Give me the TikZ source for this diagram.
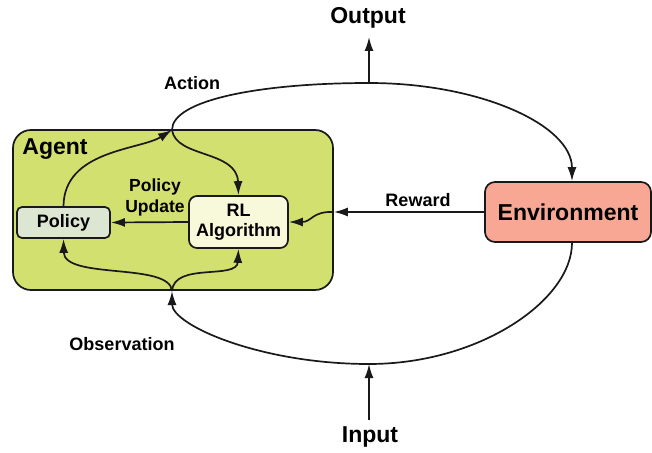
\documentclass[tikz,border=0pt]{standalone}
\usepackage{fontspec}
\setmainfont{Liberation Sans}
\usetikzlibrary{arrows.meta}
\definecolor{agentGreen}{RGB}{210,224,112}
\definecolor{policyGray}{RGB}{220,230,210}
\definecolor{algoYellow}{RGB}{248,248,218}
\definecolor{envSalmon}{RGB}{247,167,147}
\definecolor{lineDark}{RGB}{25,25,25}
\begin{document}
\begin{tikzpicture}[x=1pt, y=-1pt,
    boxStyle/.style={draw=lineDark, line width=1.7pt, font=\bfseries\fontsize{18}{20}\selectfont, align=center, inner sep=0pt},
    labelStyle/.style={font=\bfseries\fontsize{18}{20}\selectfont, align=center, inner sep=0pt},
    bigLabel/.style={font=\bfseries\fontsize{23}{26}\selectfont, inner sep=0pt},
    edgeStyle/.style={draw=lineDark, line width=1.7pt, -{Latex[length=14pt, width=9pt]}}]
    \useasboundingbox (0, 0) rectangle (652, 452);

    % Boxes
    \node[boxStyle, fill=agentGreen, rounded corners=18pt, minimum width=320pt, minimum height=160pt] (agent) at (173, 210) {};
    \node[bigLabel] (agentLabel) at (55, 149) {Agent};
    \node[boxStyle, fill=policyGray, rounded corners=5pt, minimum width=93pt, minimum height=31pt] (policy) at (63.5, 222.5) {Policy};
    \node[boxStyle, fill=algoYellow, rounded corners=8pt, minimum width=99pt, minimum height=52pt] (rl) at (238.5, 222) {RL\\Algorithm};
    \node[boxStyle, fill=envSalmon, rounded corners=10pt, minimum width=166pt, minimum height=60pt, font=\bfseries\fontsize{23}{26}\selectfont] (env) at (568, 212) {Environment};

    % Labels
    \node[bigLabel] (output) at (368, 18) {Output};
    \node[bigLabel] (input) at (370, 437) {Input};
    \node[labelStyle] (action) at (192, 83) {Action};
    \node[labelStyle] (reward) at (418, 200) {Reward};
    \node[labelStyle] (observation) at (122, 344) {Observation};
    \node[labelStyle, font=\bfseries\fontsize{17.5}{21}\selectfont] (update) at (155, 197) {Policy\\Update};

    % Junctions
    \coordinate (topJoin) at (172, 130);
    \coordinate (botJoin) at (172, 291);
    \coordinate (arcTop) at (369, 83);
    \coordinate (arcBot) at (369, 364);
    \coordinate (rewardIn) at (agent.east |- env.west);
    \coordinate (outTip) at (369, 37);
    \coordinate (inTail) at (369, 420);

    % Outer loop
    \draw[edgeStyle] (topJoin) .. controls (172, 100) and (260, 83) .. (arcTop)
        .. controls (480, 83) and (572, 125) .. ([xshift=4pt]env.north);
    \draw[edgeStyle] ([xshift=4pt]env.south) .. controls (572, 300) and (480, 364) .. (arcBot)
        .. controls (260, 364) and (172, 325) .. (botJoin);
    \draw[edgeStyle] (arcTop) -- (outTip);
    \draw[edgeStyle] (inTail) -- (arcBot);

    % Reward
    \draw[edgeStyle] (env.west) -- (rewardIn);
    \draw[edgeStyle] (rewardIn) .. controls (312, 211) and (312, 222) .. (rl.east);

    % Inside the agent
    \draw[edgeStyle] (rl.west) -- (policy.east);
    \draw[edgeStyle] (policy.north) .. controls (64, 150) and (140, 150) .. (topJoin);
    \draw[edgeStyle] (topJoin) .. controls (176, 158) and (237, 150) .. (rl.north);
    \draw[edgeStyle] (botJoin) .. controls (170, 262) and (64, 280) .. (policy.south);
    \draw[edgeStyle] (botJoin) .. controls (174, 262) and (237, 280) .. (rl.south);
\end{tikzpicture}
\end{document}
